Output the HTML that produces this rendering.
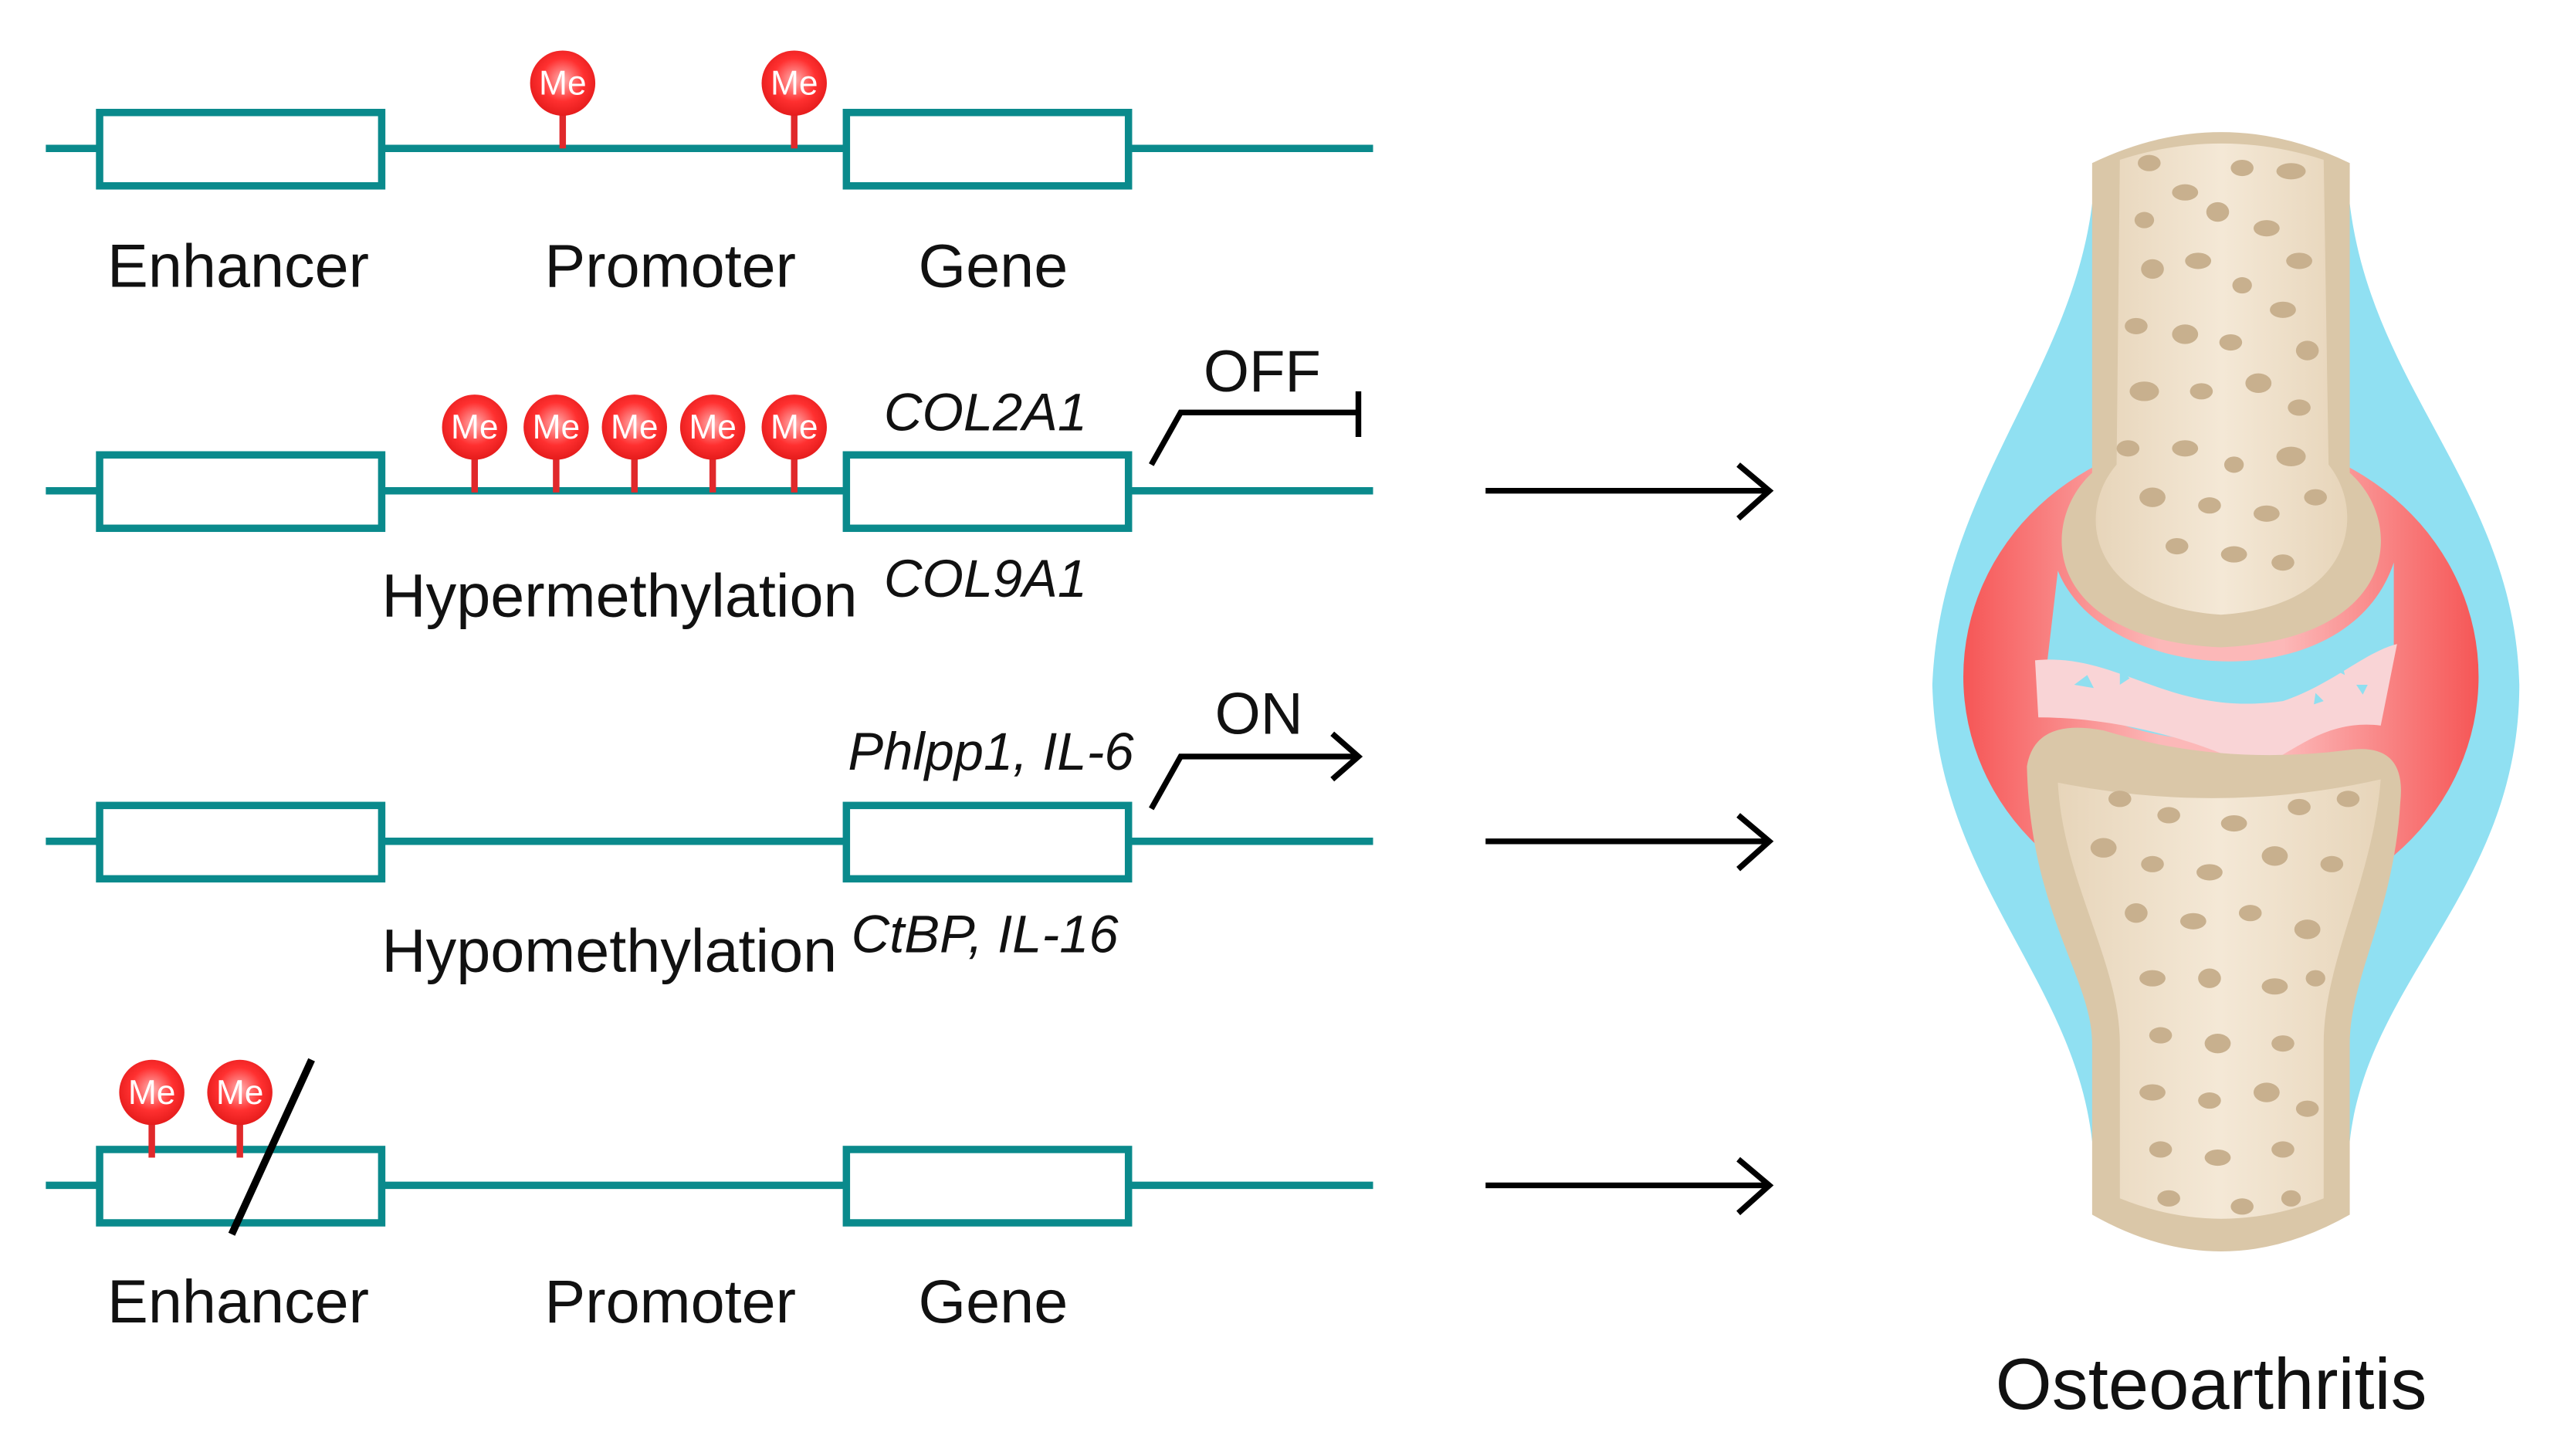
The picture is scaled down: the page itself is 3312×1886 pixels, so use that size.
<!DOCTYPE html>
<html><head><meta charset="utf-8"><style>
html,body{margin:0;padding:0;background:#fff}
svg{display:block}
text{font-family:"Liberation Sans",sans-serif}
</style></head><body>
<svg width="3312" height="1886" viewBox="0 0 1568 893" xmlns="http://www.w3.org/2000/svg">
<defs>
<radialGradient id="me" cx="0.5" cy="0.45" r="0.55">
<stop offset="0" stop-color="#ffb0b0"/><stop offset="0.6" stop-color="#ff3030"/><stop offset="1" stop-color="#e51c1c"/>
</radialGradient>
<linearGradient id="red" x1="0" x2="1" y1="0" y2="0">
<stop offset="0" stop-color="#f65656"/><stop offset="0.38" stop-color="#fcb8b8"/><stop offset="0.62" stop-color="#fcb8b8"/><stop offset="1" stop-color="#f65656"/>
</linearGradient>
<linearGradient id="bone" x1="0" x2="1">
<stop offset="0" stop-color="#e7d5ba"/><stop offset="0.5" stop-color="#f4e8d6"/><stop offset="1" stop-color="#e7d5ba"/>
</linearGradient>
<g id="me1"><line x1="0" y1="18" x2="0" y2="40" stroke="#e0292b" stroke-width="4"/><circle r="20" fill="url(#me)"/><text x="0" y="7" font-size="21" fill="#fff" text-anchor="middle">Me</text></g>
</defs>

<g fill="none" stroke="#0a8a8c" stroke-width="4.5">
<line x1="28" y1="91" x2="842" y2="91"/><line x1="28" y1="301" x2="842" y2="301"/><line x1="28" y1="516" x2="842" y2="516"/><line x1="28" y1="727" x2="842" y2="727"/>
</g>
<g fill="#fff" stroke="#0a8a8c" stroke-width="4.5">
<rect x="61" y="69" width="173" height="45"/><rect x="519" y="69" width="173" height="45"/>
<rect x="61" y="279" width="173" height="45"/><rect x="519" y="279" width="173" height="45"/>
<rect x="61" y="494" width="173" height="45"/><rect x="519" y="494" width="173" height="45"/>
<rect x="61" y="705" width="173" height="45"/><rect x="519" y="705" width="173" height="45"/>
</g>

<use href="#me1" x="345" y="51"/><use href="#me1" x="487" y="51"/>
<use href="#me1" x="291" y="262"/><use href="#me1" x="341" y="262"/><use href="#me1" x="389" y="262"/><use href="#me1" x="437" y="262"/><use href="#me1" x="487" y="262"/>
<use href="#me1" x="93" y="670"/><use href="#me1" x="147" y="670"/>
<line x1="191" y1="650" x2="142" y2="757" stroke="#000" stroke-width="4.5"/>

<g font-size="37.5" fill="#111">
<text x="146" y="176" text-anchor="middle">Enhancer</text>
<text x="411" y="176" text-anchor="middle">Promoter</text>
<text x="609" y="176" text-anchor="middle">Gene</text>
<text x="234" y="378">Hypermethylation</text>
<text x="234" y="596">Hypomethylation</text>
<text x="146" y="811" text-anchor="middle">Enhancer</text>
<text x="411" y="811" text-anchor="middle">Promoter</text>
<text x="609" y="811" text-anchor="middle">Gene</text>
<text x="738" y="240" font-size="36">OFF</text>
<text x="745" y="450" font-size="36">ON</text>
</g>
<g font-size="32.5" font-style="italic" fill="#111">
<text x="542" y="264">COL2A1</text>
<text x="542" y="366">COL9A1</text>
<text x="520" y="472">Phlpp1, IL-6</text>
<text x="522" y="584">CtBP, IL-16</text>
</g>
<g fill="none" stroke="#000" stroke-width="3.5">
<polyline points="706,285 724,253 833,253"/><line x1="833" y1="240" x2="833" y2="268"/>
<polyline points="706,496 724,464 833,464"/><polyline points="817,450 833,464 817,478"/>
<line x1="911" y1="301" x2="1083" y2="301"/><polyline points="1066,285 1085,301 1066,318"/>
<line x1="911" y1="516" x2="1083" y2="516"/><polyline points="1066,500 1085,516 1066,533"/>
<line x1="911" y1="727" x2="1083" y2="727"/><polyline points="1066,711 1085,727 1066,744"/>
</g>

<!-- joint -->
<path d="M1283,125 C1270,230 1190,300 1185,420 C1188,540 1272,600 1283,700 L1441,700 C1452,600 1545,545 1545,420 C1542,300 1455,240 1441,125 Z" fill="#90e0f2"/>
<ellipse cx="1362" cy="415" rx="158" ry="148" fill="url(#red)"/>
<path d="M1262,350 C1290,420 1440,430 1468,345 L1468,400 C1440,470 1290,470 1255,410 Z" fill="#8fdff0"/>
<path d="M1248,405 C1300,400 1330,440 1400,430 C1430,420 1450,400 1470,395 L1460,445 C1420,440 1400,470 1380,470 C1350,455 1300,440 1250,440 Z" fill="#f9d4d6"/>
<g fill="#8fdff0"><path d="M1272,420 l8,-6 l4,8 z"/><path d="M1300,410 l6,6 l-6,4 z"/><path d="M1430,410 l6,-4 l2,8 z"/><path d="M1445,420 l7,0 l-3,6 z"/><path d="M1420,425 l5,5 l-6,2 z"/></g>
<path d="M1283,100 Q1362,62 1441,100 L1441,290 C1475,320 1472,392 1362,397 C1252,392 1250,320 1283,290 Z" fill="#dac7a8"/>
<path d="M1300,98 Q1362,78 1425,98 L1428,285 C1452,315 1442,372 1362,377 C1282,372 1272,315 1298,285 Z" fill="url(#bone)"/>
<path d="M1243,470 Q1248,440 1290,448 Q1362,470 1440,460 Q1476,455 1472,492 C1468,560 1441,600 1441,640 L1441,745 Q1362,790 1283,745 L1283,640 C1283,600 1245,560 1243,470 Z" fill="#dac7a8"/>
<path d="M1262,480 Q1362,500 1460,478 C1455,540 1425,590 1425,640 L1425,735 Q1362,760 1300,735 L1300,640 C1300,590 1265,540 1262,480 Z" fill="url(#bone)"/>
<g fill="#c8b08e">
<ellipse cx="1318" cy="100" rx="7" ry="5"/><ellipse cx="1340" cy="118" rx="8" ry="5"/><ellipse cx="1375" cy="103" rx="7" ry="5"/><ellipse cx="1405" cy="105" rx="9" ry="5"/>
<ellipse cx="1315" cy="135" rx="6" ry="5"/><ellipse cx="1360" cy="130" rx="7" ry="6"/><ellipse cx="1390" cy="140" rx="8" ry="5"/><ellipse cx="1410" cy="160" rx="8" ry="5"/>
<ellipse cx="1320" cy="165" rx="7" ry="6"/><ellipse cx="1348" cy="160" rx="8" ry="5"/><ellipse cx="1375" cy="175" rx="6" ry="5"/><ellipse cx="1400" cy="190" rx="8" ry="5"/>
<ellipse cx="1310" cy="200" rx="7" ry="5"/><ellipse cx="1340" cy="205" rx="8" ry="6"/><ellipse cx="1368" cy="210" rx="7" ry="5"/><ellipse cx="1415" cy="215" rx="7" ry="6"/>
<ellipse cx="1315" cy="240" rx="9" ry="6"/><ellipse cx="1350" cy="240" rx="7" ry="5"/><ellipse cx="1385" cy="235" rx="8" ry="6"/><ellipse cx="1410" cy="250" rx="7" ry="5"/>
<ellipse cx="1305" cy="275" rx="7" ry="5"/><ellipse cx="1340" cy="275" rx="8" ry="5"/><ellipse cx="1370" cy="285" rx="6" ry="5"/><ellipse cx="1405" cy="280" rx="9" ry="6"/>
<ellipse cx="1320" cy="305" rx="8" ry="6"/><ellipse cx="1355" cy="310" rx="7" ry="5"/><ellipse cx="1390" cy="315" rx="8" ry="5"/><ellipse cx="1420" cy="305" rx="7" ry="5"/>
<ellipse cx="1335" cy="335" rx="7" ry="5"/><ellipse cx="1370" cy="340" rx="8" ry="5"/><ellipse cx="1400" cy="345" rx="7" ry="5"/>
<ellipse cx="1300" cy="490" rx="7" ry="5"/><ellipse cx="1330" cy="500" rx="7" ry="5"/><ellipse cx="1370" cy="505" rx="8" ry="5"/><ellipse cx="1410" cy="495" rx="7" ry="5"/><ellipse cx="1440" cy="490" rx="7" ry="5"/>
<ellipse cx="1290" cy="520" rx="8" ry="6"/><ellipse cx="1320" cy="530" rx="7" ry="5"/><ellipse cx="1355" cy="535" rx="8" ry="5"/><ellipse cx="1395" cy="525" rx="8" ry="6"/><ellipse cx="1430" cy="530" rx="7" ry="5"/>
<ellipse cx="1310" cy="560" rx="7" ry="6"/><ellipse cx="1345" cy="565" rx="8" ry="5"/><ellipse cx="1380" cy="560" rx="7" ry="5"/><ellipse cx="1415" cy="570" rx="8" ry="6"/>
<ellipse cx="1320" cy="600" rx="8" ry="5"/><ellipse cx="1355" cy="600" rx="7" ry="6"/><ellipse cx="1395" cy="605" rx="8" ry="5"/><ellipse cx="1420" cy="600" rx="6" ry="5"/>
<ellipse cx="1325" cy="635" rx="7" ry="5"/><ellipse cx="1360" cy="640" rx="8" ry="6"/><ellipse cx="1400" cy="640" rx="7" ry="5"/>
<ellipse cx="1320" cy="670" rx="8" ry="5"/><ellipse cx="1355" cy="675" rx="7" ry="5"/><ellipse cx="1390" cy="670" rx="8" ry="6"/><ellipse cx="1415" cy="680" rx="7" ry="5"/>
<ellipse cx="1325" cy="705" rx="7" ry="5"/><ellipse cx="1360" cy="710" rx="8" ry="5"/><ellipse cx="1400" cy="705" rx="7" ry="5"/>
<ellipse cx="1330" cy="735" rx="7" ry="5"/><ellipse cx="1375" cy="740" rx="7" ry="5"/><ellipse cx="1405" cy="735" rx="6" ry="5"/>
</g>
<text x="1356" y="864" font-size="44.5" fill="#111" text-anchor="middle">Osteoarthritis</text>
</svg>
</body></html>
